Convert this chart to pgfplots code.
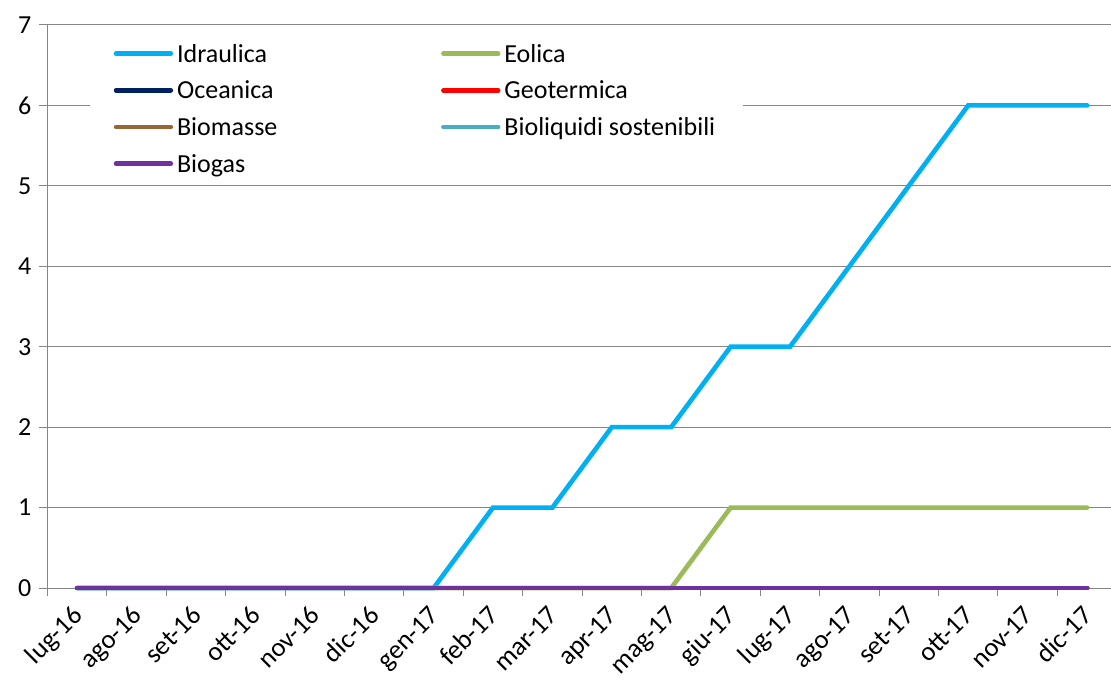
\documentclass[border=0pt]{standalone}
\usepackage{fontspec}
\setmainfont{Carlito}
\usepackage{pgfplots}
\usepackage{pgfplotstable}
\pgfplotsset{compat=1.18}
\definecolor{cIdr}{HTML}{00B0F0}
\definecolor{cEol}{HTML}{9BBB59}
\definecolor{cOce}{HTML}{002060}
\definecolor{cGeo}{HTML}{FF0000}
\definecolor{cBim}{HTML}{996633}
\definecolor{cBil}{HTML}{4BACC6}
\definecolor{cBgs}{HTML}{7030A0}
\definecolor{gridgray}{HTML}{868686}
\pgfplotstableread{
x idr eol oce geo bim bil bgs
0 0 0 0 0 0 0 0
1 0 0 0 0 0 0 0
2 0 0 0 0 0 0 0
3 0 0 0 0 0 0 0
4 0 0 0 0 0 0 0
5 0 0 0 0 0 0 0
6 0 0 0 0 0 0 0
7 1 0 0 0 0 0 0
8 1 0 0 0 0 0 0
9 2 0 0 0 0 0 0
10 2 0 0 0 0 0 0
11 3 1 0 0 0 0 0
12 3 1 0 0 0 0 0
13 4 1 0 0 0 0 0
14 5 1 0 0 0 0 0
15 6 1 0 0 0 0 0
16 6 1 0 0 0 0 0
17 6 1 0 0 0 0 0
}\datatable
\begin{document}
\begin{tikzpicture}
\path[use as bounding box] (-35.6pt,-68.25pt) rectangle (797.6pt,441pt);
\begin{axis}[
  at={(0,0)}, anchor=south west,
  scale only axis,
  width=801.9pt, height=422.3pt,
  xmin=-0.5, xmax=17.5, ymin=0, ymax=7,
  clip=false,
  axis lines*=left,
  axis line style={draw=gridgray, line width=0.75pt},
  x axis line style={draw=none},
  ytick={0,...,7},
  ymajorgrids,
  grid style={draw=gridgray, line width=0.75pt},
  xtick={0,...,17},
  xticklabels={lug-16,ago-16,set-16,ott-16,nov-16,dic-16,gen-17,feb-17,mar-17,apr-17,mag-17,giu-17,lug-17,ago-17,set-17,ott-17,nov-17,dic-17},
  major x tick style={draw=none},
  minor xtick={-0.5,0.5,...,17.5},
  tick align=outside,
  major tick length=6pt, minor tick length=6pt,
  tick style={draw=gridgray, line width=0.75pt},
  /pgf/number format/assume math mode=true,
  tick label style={font=\fontsize{19.5}{23}\selectfont, text=black},
  x tick label style={xshift=-4.5pt, yshift=-6pt, rotate=45, anchor=north east, inner sep=0pt, text height=13.5pt, text depth=4pt, font=\fontsize{20}{24}\selectfont},
  y tick label style={anchor=east, inner sep=0pt, xshift=-6pt},
  legend columns=2,
  legend cell align=left,
  legend style={draw=none, fill=white, at={(axis description cs:0.0393,0.972)}, anchor=north west,
    font=\fontsize{19.5}{23}\selectfont, inner xsep=18pt, inner ysep=3pt,
    row sep=10.5pt,
    /tikz/every even column/.append style={column sep=0pt},
    /tikz/every odd column/.append style={column sep=0pt},
    nodes={inner xsep=3pt, inner ysep=0pt, text height=13pt, text depth=4pt}},
  legend image code/.code={\draw[#1, line cap=round] (0pt,2pt) -- (41pt,2pt);},
  every axis plot/.append style={line width=3.5pt, line cap=round, line join=miter},
]
\addplot[cIdr] table[x=x, y=idr] {\datatable};
\addlegendentry{\makebox[195pt][l]{Idraulica}}
\addplot[cEol] table[x=x, y=eol] {\datatable};
\addlegendentry{Eolica}
\addplot[cOce] table[x=x, y=oce] {\datatable};
\addlegendentry{\makebox[195pt][l]{Oceanica}}
\addplot[cGeo] table[x=x, y=geo] {\datatable};
\addlegendentry{Geotermica}
\addplot[cBim] table[x=x, y=bim] {\datatable};
\addlegendentry{\makebox[195pt][l]{Biomasse}}
\addplot[cBil] table[x=x, y=bil] {\datatable};
\addlegendentry{Bioliquidi sostenibili}
\addplot[cBgs] table[x=x, y=bgs] {\datatable};
\addlegendentry{\makebox[195pt][l]{Biogas}}
\end{axis}
\end{tikzpicture}
\end{document}
